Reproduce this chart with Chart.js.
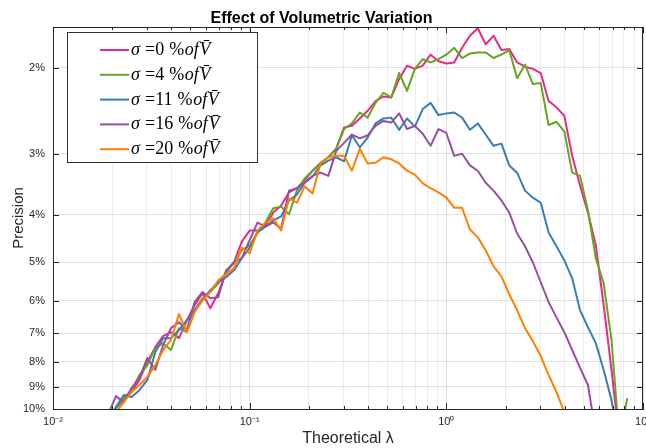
<!DOCTYPE html>
<html>
<head>
<meta charset="utf-8">
<script src="https://cdn.jsdelivr.net/npm/chart.js@4.4.0/dist/chart.umd.min.js"></script>
<style>
  html, body { margin: 0; padding: 0; background: #fff; }
</style>
</head>
<body>
<canvas id="c" width="646" height="448"></canvas>
<script>
// theoretical lambda (log spaced sample points)
const lambdas = [0.0191, 0.0209, 0.0229, 0.0251, 0.0275, 0.0302, 0.0331, 0.0363, 0.0398, 0.0437,
  0.0479, 0.0525, 0.0575, 0.0631, 0.0692, 0.0759, 0.0832, 0.0912, 0.1000, 0.1096,
  0.1202, 0.1318, 0.1445, 0.1585, 0.1738, 0.1905, 0.2089, 0.2291, 0.2512, 0.2754,
  0.3020, 0.3311, 0.3631, 0.3981, 0.4365, 0.4786, 0.5248, 0.5754, 0.6310, 0.6918,
  0.7586, 0.8318, 0.9120, 1.0000, 1.0965, 1.2023, 1.3183, 1.4454, 1.5849, 1.7378,
  1.9055, 2.0893, 2.2909, 2.5119, 2.7542, 3.0200, 3.3113, 3.6308, 3.9811, 4.3652,
  4.7863, 5.2481, 5.7544, 6.3096, 6.9183, 7.5858, 8.3176, 9.1201];

// precision (%) per sigma
const sigma0 = [10.53, 9.96, 9.59, 9.23, 8.72, 8.01, 7.47, 7.09, 6.96, 7.16,
  6.58, 6.13, 5.79, 6.22, 5.79, 5.25, 5.01, 4.54, 4.31, 4.31,
  4.21, 3.96, 3.83, 3.60, 3.53, 3.40, 3.25, 3.14, 3.05, 2.93,
  2.65, 2.63, 2.54, 2.45, 2.34, 2.29, 2.30, 2.11, 1.98, 2.01,
  1.98, 1.88, 1.94, 1.96, 1.95, 1.82, 1.72, 1.66, 1.79, 1.72,
  1.84, 1.83, 1.95, 1.99, 2.01, 2.05, 2.34, 2.41, 2.51, 3.03,
  3.49, 3.96, 4.62, 6.13, 8.32, 11.57, null, null];
const sigma4 = [10.43, 9.96, 9.50, 9.15, 8.52, 8.13, 7.50, 7.33, 7.57, 6.83,
  6.96, 6.28, 5.93, 5.76, 5.53, 5.25, 5.01, 4.73, 4.62, 4.35,
  4.15, 3.88, 3.85, 3.99, 3.57, 3.37, 3.25, 3.13, 3.05, 2.93,
  2.67, 2.60, 2.47, 2.53, 2.36, 2.25, 2.30, 2.05, 2.23, 2.01,
  1.92, 1.95, 1.92, 1.88, 1.82, 1.91, 1.87, 1.86, 1.86, 1.91,
  1.88, 1.84, 2.10, 1.97, 2.16, 2.15, 2.62, 2.58, 2.70, 3.28,
  3.33, 3.92, 4.91, 5.53, 7.23, 11.57, 9.50, null];
const sigma11 = [10.53, 9.91, 9.36, 9.45, 9.15, 8.72, 7.65, 7.16, 7.16, 6.89,
  6.58, 6.28, 5.99, 5.71, 5.50, 5.37, 5.20, 4.91, 4.67, 4.35,
  4.23, 4.11, 4.03, 3.74, 3.64, 3.44, 3.34, 3.17, 3.10, 3.05,
  3.11, 2.75, 2.91, 2.78, 2.60, 2.54, 2.53, 2.68, 2.54, 2.64,
  2.43, 2.36, 2.50, 2.48, 2.47, 2.53, 2.68, 2.60, 2.74, 2.89,
  2.86, 3.17, 3.28, 3.57, 3.69, 3.78, 4.35, 4.64, 4.96, 5.40,
  6.28, 6.80, 7.33, 8.32, 9.59, 12.13, null, null];
const sigma16 = [10.24, 9.41, 9.68, 9.06, 8.64, 7.86, 8.32, 7.40, 6.83, 6.64,
  6.89, 6.04, 5.76, 5.93, 5.90, 5.20, 5.01, 4.91, 4.51, 4.15,
  4.23, 4.15, 4.27, 3.57, 3.53, 3.44, 3.33, 3.28, 3.33, 2.96,
  2.85, 2.74, 2.79, 2.75, 2.63, 2.57, 2.59, 2.48, 2.67, 2.63,
  2.73, 2.89, 2.67, 2.72, 3.03, 3.00, 3.17, 3.25, 3.44, 3.57,
  3.74, 3.96, 4.37, 4.64, 5.01, 5.50, 6.04, 6.49, 6.96, 7.57,
  8.24, 8.93, 11.20, null, null, null, null, null];
const sigma20 = [10.78, 10.15, 9.68, 9.23, 8.93, 8.60, 8.13, 7.57, 7.23, 6.39,
  6.96, 6.33, 5.99, 5.76, 5.45, 5.30, 5.15, 4.67, 4.80, 4.31,
  4.15, 4.07, 4.31, 3.70, 3.78, 3.50, 3.62, 3.14, 3.05, 3.03,
  3.03, 3.25, 2.93, 3.14, 3.13, 3.05, 3.08, 3.14, 3.25, 3.31,
  3.45, 3.53, 3.60, 3.69, 3.87, 3.87, 4.29, 4.45, 4.73, 5.10,
  5.35, 5.82, 6.28, 6.83, 7.26, 7.79, 8.52, 9.23, 10.15, null,
  null, null, null, null, null, null, null, null];

const sigmaLabels = ['0', '4', '11', '16', '20'];
const seriesValues = [sigma0, sigma4, sigma11, sigma16, sigma20];
const colors = ['#e7298a', '#66a61e', '#377eb8', '#984ea3', '#ff7f00'];

const yTicks = [2, 3, 4, 5, 6, 7, 8, 9, 10];
const yMin = 1.65, yMax = 10;
const xDecades = [0.01, 0.1, 1, 10];
const xDecadeLabels = ['10\u207B\u00B2', '10\u207B\u00B9', '10\u2070', '10\u00B9'];

const SANS = '"Liberation Sans", Arial, Helvetica, sans-serif';
const SERIF = '"Liberation Serif", "DejaVu Serif", serif';
const AXIS = '#262626';

// every 1..9 x 10^k position for the log grid
const xGrid = [];
for (let k = 0; k < xDecades.length - 1; k++)
  for (let m = 1; m < 10; m++) xGrid.push(xDecades[k] * m);
xGrid.push(xDecades[xDecades.length - 1]);

const isDecade = v => Math.abs(Math.log10(v) - Math.round(Math.log10(v))) < 1e-6;

function drawMathLabel(ctx, x, y, n) {
  const parts = [
    ['\u03C3', 'italic 18px ' + SERIF],
    [' =' + n + ' ', '18px ' + SERIF],
    ['%', '18px ' + SERIF],
    ['of', 'italic 18px ' + SERIF],
    ['V\u0304', 'italic 18px ' + SERIF]
  ];
  for (const [t, f] of parts) {
    ctx.font = f;
    ctx.fillText(t, x, y);
    x += ctx.measureText(t).width + 0.6;
  }
}

const decor = {
  id: 'decor',
  afterDraw(chart) {
    const { ctx, chartArea: a, scales: { x, y } } = chart;
    ctx.save();
    ctx.strokeStyle = AXIS;
    ctx.lineWidth = 1;
    ctx.beginPath();
    // top and right frame
    ctx.moveTo(a.left, a.top + 0.5); ctx.lineTo(a.right, a.top + 0.5);
    ctx.moveTo(a.right - 0.5, a.top); ctx.lineTo(a.right - 0.5, a.bottom);
    // inward ticks
    xGrid.forEach(v => {
      const px = Math.round(x.getPixelForValue(v)) + 0.5;
      const len = isDecade(v) ? 6 : 3;
      ctx.moveTo(px, a.bottom); ctx.lineTo(px, a.bottom - len);
      ctx.moveTo(px, a.top); ctx.lineTo(px, a.top + len);
    });
    yTicks.forEach(v => {
      const py = Math.round(y.getPixelForValue(v)) + 0.5;
      ctx.moveTo(a.left, py); ctx.lineTo(a.left + 6, py);
      ctx.moveTo(a.right, py); ctx.lineTo(a.right - 6, py);
    });
    ctx.stroke();

    // legend box
    const bx = 67.5, by = 32.5, bw = 190, bh = 130;
    ctx.fillStyle = '#fff';
    ctx.fillRect(bx, by, bw, bh);
    ctx.strokeStyle = '#333';
    ctx.strokeRect(bx, by, bw, bh);
    ctx.textBaseline = 'alphabetic';
    ctx.textAlign = 'left';
    sigmaLabels.forEach((n, i) => {
      const ry = 50 + i * 24.8;
      ctx.strokeStyle = colors[i];
      ctx.lineWidth = 2;
      ctx.beginPath();
      ctx.moveTo(100, ry); ctx.lineTo(129, ry);
      ctx.stroke();
      ctx.fillStyle = '#000';
      drawMathLabel(ctx, 131, ry + 5, n);
    });
    ctx.restore();
  }
};

new Chart(document.getElementById('c'), {
  type: 'line',
  data: {
    datasets: seriesValues.map((vals, i) => ({
      label: 'sigma = ' + sigmaLabels[i],
      data: lambdas.map((lx, j) => ({ x: lx, y: vals[j] })).filter(p => p.y != null),
      borderColor: colors[i],
      borderWidth: 2,
      pointRadius: 0,
      tension: 0,
      fill: false,
      borderJoinStyle: 'round',
      clip: 0,
      order: seriesValues.length - i
    }))
  },
  options: {
    responsive: false,
    animation: false,
    layout: { padding: { left: 0, right: 3, top: 0, bottom: 0 } },
    plugins: {
      legend: { display: false },
      tooltip: { enabled: false },
      title: {
        display: true,
        text: 'Effect of Volumetric Variation',
        color: '#000',
        font: { family: SANS, size: 16, weight: 'bold', lineHeight: 1.0 },
        padding: { top: 10.5, bottom: 0.5 }
      }
    },
    scales: {
      x: {
        type: 'logarithmic',
        min: 0.01,
        max: 10,
        afterBuildTicks: s => { s.ticks = xGrid.map(v => ({ value: v })); },
        afterFit: s => { s.height = 39; s.paddingLeft = 0; s.paddingRight = 0; },
        ticks: {
          autoSkip: false,
          maxRotation: 0,
          padding: 6,
          color: AXIS,
          font: { family: SANS, size: 11 },
          callback: v => {
            const k = xDecades.findIndex(d => Math.abs(d - v) / d < 1e-6);
            return k >= 0 ? xDecadeLabels[k] : '';
          }
        },
        grid: { color: ctx => (ctx.tick && isDecade(ctx.tick.value)) ? '#dedede' : '#ebebeb', drawTicks: false },
        border: { color: AXIS, width: 1 },
        title: {
          display: true,
          text: 'Theoretical \u03BB',
          color: AXIS,
          font: { family: SANS, size: 16 },
          padding: { top: 0, bottom: 0 }
        }
      },
      y: {
        type: 'logarithmic',
        reverse: true,
        bounds: 'data',
        min: yMin,
        max: yMax,
        afterBuildTicks: s => {
          s.ticks = yTicks.map(v => ({ value: v }));
          s.min = yMin;
          s.max = yMax;
        },
        afterFit: s => { s.width = 53; s.paddingTop = 0; s.paddingBottom = 0; },
        ticks: {
          autoSkip: false,
          padding: 8,
          color: AXIS,
          font: { family: SANS, size: 11 },
          callback: v => v + '%'
        },
        grid: { color: '#e0e0e0', drawTicks: false },
        border: { color: AXIS, width: 1 },
        title: {
          display: true,
          text: 'Precision',
          color: AXIS,
          font: { family: SANS, size: 15 },
          padding: { top: 10, bottom: 0 }
        }
      }
    }
  },
  plugins: [decor]
});
</script>
</body>
</html>
